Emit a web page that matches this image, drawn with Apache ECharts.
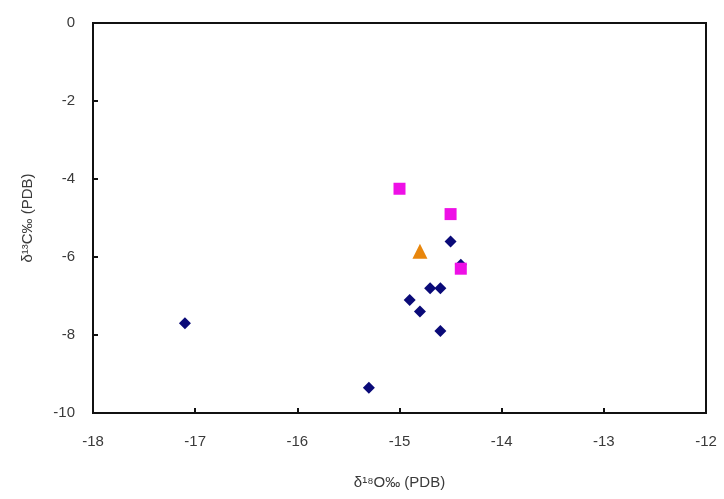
<!DOCTYPE html>
<html>
<head>
<meta charset="utf-8">
<script src="https://cdn.jsdelivr.net/npm/echarts@6/dist/echarts.min.js"></script>
<style>
  html, body { margin: 0; padding: 0; background: #fff; }
  #chart { width: 724px; height: 499px; }
</style>
</head>
<body>
<div id="chart"></div>
<script>
// δ18O vs δ13C (‰ PDB) for three sample groups
const diamondPts = [
  [-17.1, -7.7],
  [-15.3, -9.35],
  [-14.9, -7.1],
  [-14.8, -7.4],
  [-14.7, -6.8],
  [-14.6, -6.8],
  [-14.6, -7.9],
  [-14.5, -5.6],
  [-14.4, -6.2]
];
const squarePts = [
  [-15.0, -4.25],
  [-14.5, -4.9],
  [-14.4, -6.3]
];
const trianglePts = [
  [-14.8, -5.85]
];

const xTicks = { min: -18, max: -12, interval: 1 };
const yTicks = { min: -10, max: 0, interval: 2 };

const labelFont = { fontFamily: 'Liberation Sans, Arial, sans-serif', fontSize: 15, color: '#3a3a3a' };

const chart = echarts.init(document.getElementById('chart'));
chart.setOption({
  backgroundColor: '#fff',
  animation: false,
  grid: {
    left: 93, top: 23, right: 18, bottom: 86,
    show: true, borderColor: '#111', borderWidth: 2, backgroundColor: 'transparent'
  },
  xAxis: {
    type: 'value',
    min: xTicks.min, max: xTicks.max, interval: xTicks.interval,
    name: 'δ¹⁸O‰ (PDB)',
    nameLocation: 'middle',
    nameGap: 62,
    nameTextStyle: labelFont,
    axisLine: { show: true, onZero: false, lineStyle: { color: '#111', width: 2 } },
    axisTick: { show: true, inside: true, length: 5, lineStyle: { color: '#111', width: 2 } },
    axisLabel: Object.assign({ margin: 21 }, labelFont),
    splitLine: { show: false }
  },
  yAxis: {
    type: 'value',
    min: yTicks.min, max: yTicks.max, interval: yTicks.interval,
    name: 'δ¹³C‰ (PDB)',
    nameLocation: 'middle',
    nameGap: 58,
    nameRotate: 90,
    nameTextStyle: labelFont,
    axisLine: { show: true, onZero: false, lineStyle: { color: '#111', width: 2 } },
    axisTick: { show: true, inside: true, length: 5, lineStyle: { color: '#111', width: 2 } },
    axisLabel: Object.assign({ margin: 18 }, labelFont),
    splitLine: { show: false }
  },
  series: [
    {
      type: 'scatter',
      data: diamondPts,
      symbol: 'diamond',
      symbolSize: 12,
      itemStyle: { color: '#0a0a78', opacity: 1 }
    },
    {
      type: 'scatter',
      data: squarePts,
      symbol: 'rect',
      symbolSize: 12,
      itemStyle: { color: '#ee10e6', opacity: 1 }
    },
    {
      type: 'scatter',
      data: trianglePts,
      symbol: 'triangle',
      symbolSize: 15,
      itemStyle: { color: '#e8860c', opacity: 1 }
    }
  ]
});
</script>
</body>
</html>
